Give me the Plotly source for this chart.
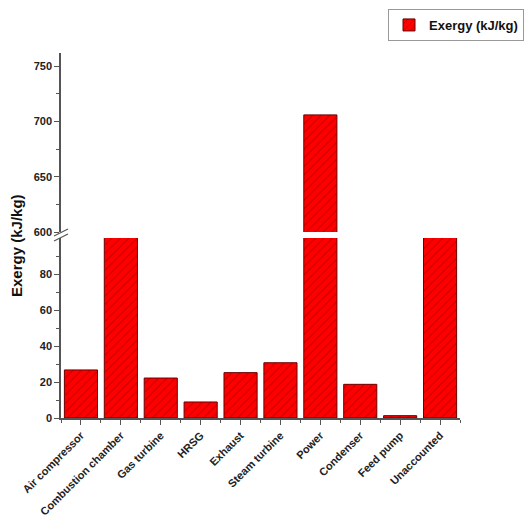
import plotly.graph_objects as go

# Exergy balance of the combined cycle (kJ/kg)
categories = ["Air compressor", "Combustion chamber", "Gas turbine", "HRSG", "Exhaust",
              "Steam turbine", "Power", "Condenser", "Feed pump", "Unaccounted"]
exergy = [26.7, 310.0, 22.2, 8.9, 25.2, 30.7, 706.0, 18.7, 1.3, 240.0]

lower_ticks = [0, 20, 40, 60, 80]
upper_ticks = [600, 650, 700, 750]

idx = list(range(len(categories)))

FONT = "Liberation Sans, Arial, sans-serif"
AXIS_COL = "#555555"
TICK_FONT = dict(family=FONT, size=11, color="#222222", weight="bold")

bar_style = dict(
    marker=dict(
        color="#ff0000",
        line=dict(color="#6a0000", width=1),
        pattern=dict(shape="/", fgcolor="#8a0000", size=6, solidity=0.18),
    ),
    width=0.83,
)

fig = go.Figure()
# lower segment of the broken axis (0-100)
fig.add_trace(go.Bar(x=idx, y=exergy, name="Exergy (kJ/kg)", xaxis="x", yaxis="y",
                     showlegend=True, **bar_style))
# upper segment of the broken axis (600-762)
fig.add_trace(go.Bar(x=idx, y=exergy, name="Exergy (kJ/kg)", xaxis="x2", yaxis="y2",
                     showlegend=False, **bar_style))

# pixel layout helpers
L, R, T, B = 61, 460, 53, 418
W, H = R - L, B - T


def px_x(p):
    return (p - L) / W


def px_y(p):
    return (B - p) / H


lower_dom = [0, px_y(238)]
upper_dom = [px_y(232), 1]

axis_common = dict(showline=True, linecolor=AXIS_COL, linewidth=1.5, showgrid=False,
                   zeroline=False, ticks="outside", tickcolor=AXIS_COL, tickwidth=1,
                   ticklen=5, automargin=False)

fig.update_layout(
    width=524, height=521,
    margin=dict(l=L, r=524 - R, t=T, b=521 - B, autoexpand=False),
    paper_bgcolor="white", plot_bgcolor="white",
    bargap=0.17,
    barmode="overlay",
    xaxis=dict(anchor="y", domain=[0, 1], range=[-0.5, len(categories) - 0.5],
               tickvals=idx, ticktext=categories, tickangle=-45,
               tickfont=dict(family=FONT, size=11, color="#222222", weight="bold"),
               minor=dict(tickvals=[i - 0.5 for i in range(len(categories) + 1)],
                          ticks="outside", ticklen=3, tickcolor=AXIS_COL),
               **axis_common),
    xaxis2=dict(anchor="y2", matches="x", visible=False, domain=[0, 1]),
    yaxis=dict(anchor="x", domain=lower_dom, range=[0, 100], tickvals=lower_ticks,
               tickfont=TICK_FONT,
               minor=dict(tickvals=[10, 30, 50, 70, 90], ticks="outside", ticklen=3,
                          tickcolor=AXIS_COL),
               **axis_common),
    yaxis2=dict(anchor="x2", domain=upper_dom, range=[600, 762], tickvals=upper_ticks,
                tickfont=TICK_FONT,
                minor=dict(tickvals=[625, 675, 725], ticks="outside", ticklen=3,
                           tickcolor=AXIS_COL),
                **axis_common),
    legend=dict(x=px_x(524), xanchor="right", y=px_y(9), yanchor="top",
                bordercolor="#999999", borderwidth=1, bgcolor="white",
                font=dict(family=FONT, size=13, color="#111111", weight="bold"),
                itemwidth=30),
    font=dict(family=FONT),
)

# y-axis title
fig.add_annotation(text="<b>Exergy (kJ/kg)</b>", xref="paper", yref="paper",
                   x=px_x(17), y=px_y(246), xanchor="center", yanchor="middle",
                   textangle=-90, showarrow=False,
                   font=dict(family=FONT, size=15, color="#111111"))

# axis break marks
for y0 in (236, 241):
    fig.add_shape(type="line", xref="paper", yref="paper",
                  x0=px_x(54), y0=px_y(y0), x1=px_x(68), y1=px_y(y0 - 7),
                  line=dict(color=AXIS_COL, width=1.2))

fig.write_html("out.html")
